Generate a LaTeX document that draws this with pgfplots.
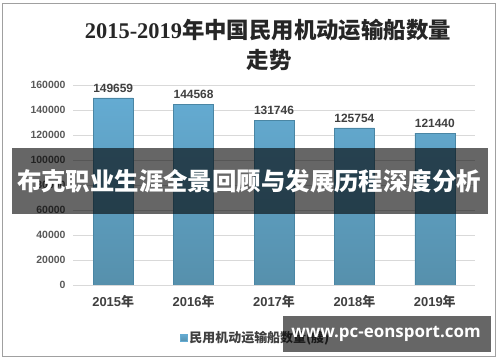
\documentclass[border=0pt]{standalone}
\usepackage{fontspec}
\usepackage{pgfplots}
\pgfplotsset{compat=1.18}
\setmainfont{Liberation Sans}
\newfontfamily\cjk{Noto Sans CJK SC}
\newfontfamily\serif{Liberation Serif}
\newfontfamily\wm{Open Sans}
\definecolor{bartop}{HTML}{64ABD2}
\definecolor{barbot}{HTML}{5690AC}
\definecolor{baredge}{HTML}{4A86A4}
\definecolor{txt}{HTML}{404040}
\definecolor{tickc}{HTML}{595959}
\definecolor{gridc}{HTML}{D9D9D9}
\definecolor{framec}{HTML}{A0A0A0}
\begin{document}
\begin{tikzpicture}
\useasboundingbox (0bp,0bp) rectangle (500bp,362bp);
\fill[white] (0bp,0bp) rectangle (500bp,362bp);
\draw[framec, line width=1bp] (2.5bp,5.5bp) rectangle (495.5bp,358bp);
\node[font=\fontsize{22.5}{26}\selectfont\bfseries, text=black!85] at (268bp,332bp) {{\serif 2015-2019}{\cjk 年中国民用机动运输船数量}};
\node[font=\fontsize{22.5}{26}\selectfont\bfseries, text=black!85] at (269bp,302bp) {{\cjk 走势}};
\begin{axis}[
  at={(73bp,77bp)}, anchor=south west,
  scale only axis, width=402bp, height=200bp,
  xmin=-0.5, xmax=4.5, ymin=0, ymax=160000,
  ytick={0,20000,40000,60000,80000,100000,120000,140000,160000},
  xtick={0,1,2,3,4},
  xticklabels={2015{\cjk 年},2016{\cjk 年},2017{\cjk 年},2018{\cjk 年},2019{\cjk 年}},
  ymajorgrids, grid style={gridc, line width=0.8bp},
  axis line style={draw=none},
  major tick length=0pt,
  scaled y ticks=false,
  /pgf/number format/assume math mode=true,
  yticklabel style={/pgf/number format/fixed, /pgf/number format/1000 sep={}, font=\fontsize{10.5}{12}\selectfont\bfseries, text=tickc, xshift=-4bp},
  xticklabel style={font=\fontsize{13}{15}\selectfont\bfseries, text=txt, yshift=-7bp},
  nodes near coords,
  nodes near coords style={font=\fontsize{12}{14}\selectfont\bfseries, text=txt, /pgf/number format/fixed, /pgf/number format/1000 sep={}, /pgf/number format/precision=0, yshift=2bp},
  legend style={at={(0.258,-0.265)}, anchor=west, draw=none, fill=none, font=\fontsize{13}{15}\selectfont\bfseries, text=txt},
  legend image code/.code={\fill[bartop] (0bp,-3.5bp) rectangle (7bp,3.5bp);},
]
\addplot[ybar, bar width=40bp, draw=baredge, line width=0.6bp, top color=bartop, bottom color=barbot] coordinates {(0,149659) (1,144568) (2,131746) (3,125754) (4,121440)};
\addlegendentry{{\cjk 民用机动运输船数量(艘)}}
\end{axis}
\fill[black, opacity=0.6] (12bp,148bp) rectangle (488bp,214bp);
\node[text=white, font=\fontsize{24.5}{28}\selectfont\bfseries] at (249bp,181bp) {{\cjk 布克职业生涯全景回顾与发展历程深度分析}};
\fill[black, opacity=0.6] (283bp,10bp) rectangle (491bp,46bp);
\node[text=white, font=\wm\fontsize{17}{20}\selectfont\bfseries] at (386bp,28bp) {www.pc-eonsport.com};
\end{tikzpicture}
\end{document}
